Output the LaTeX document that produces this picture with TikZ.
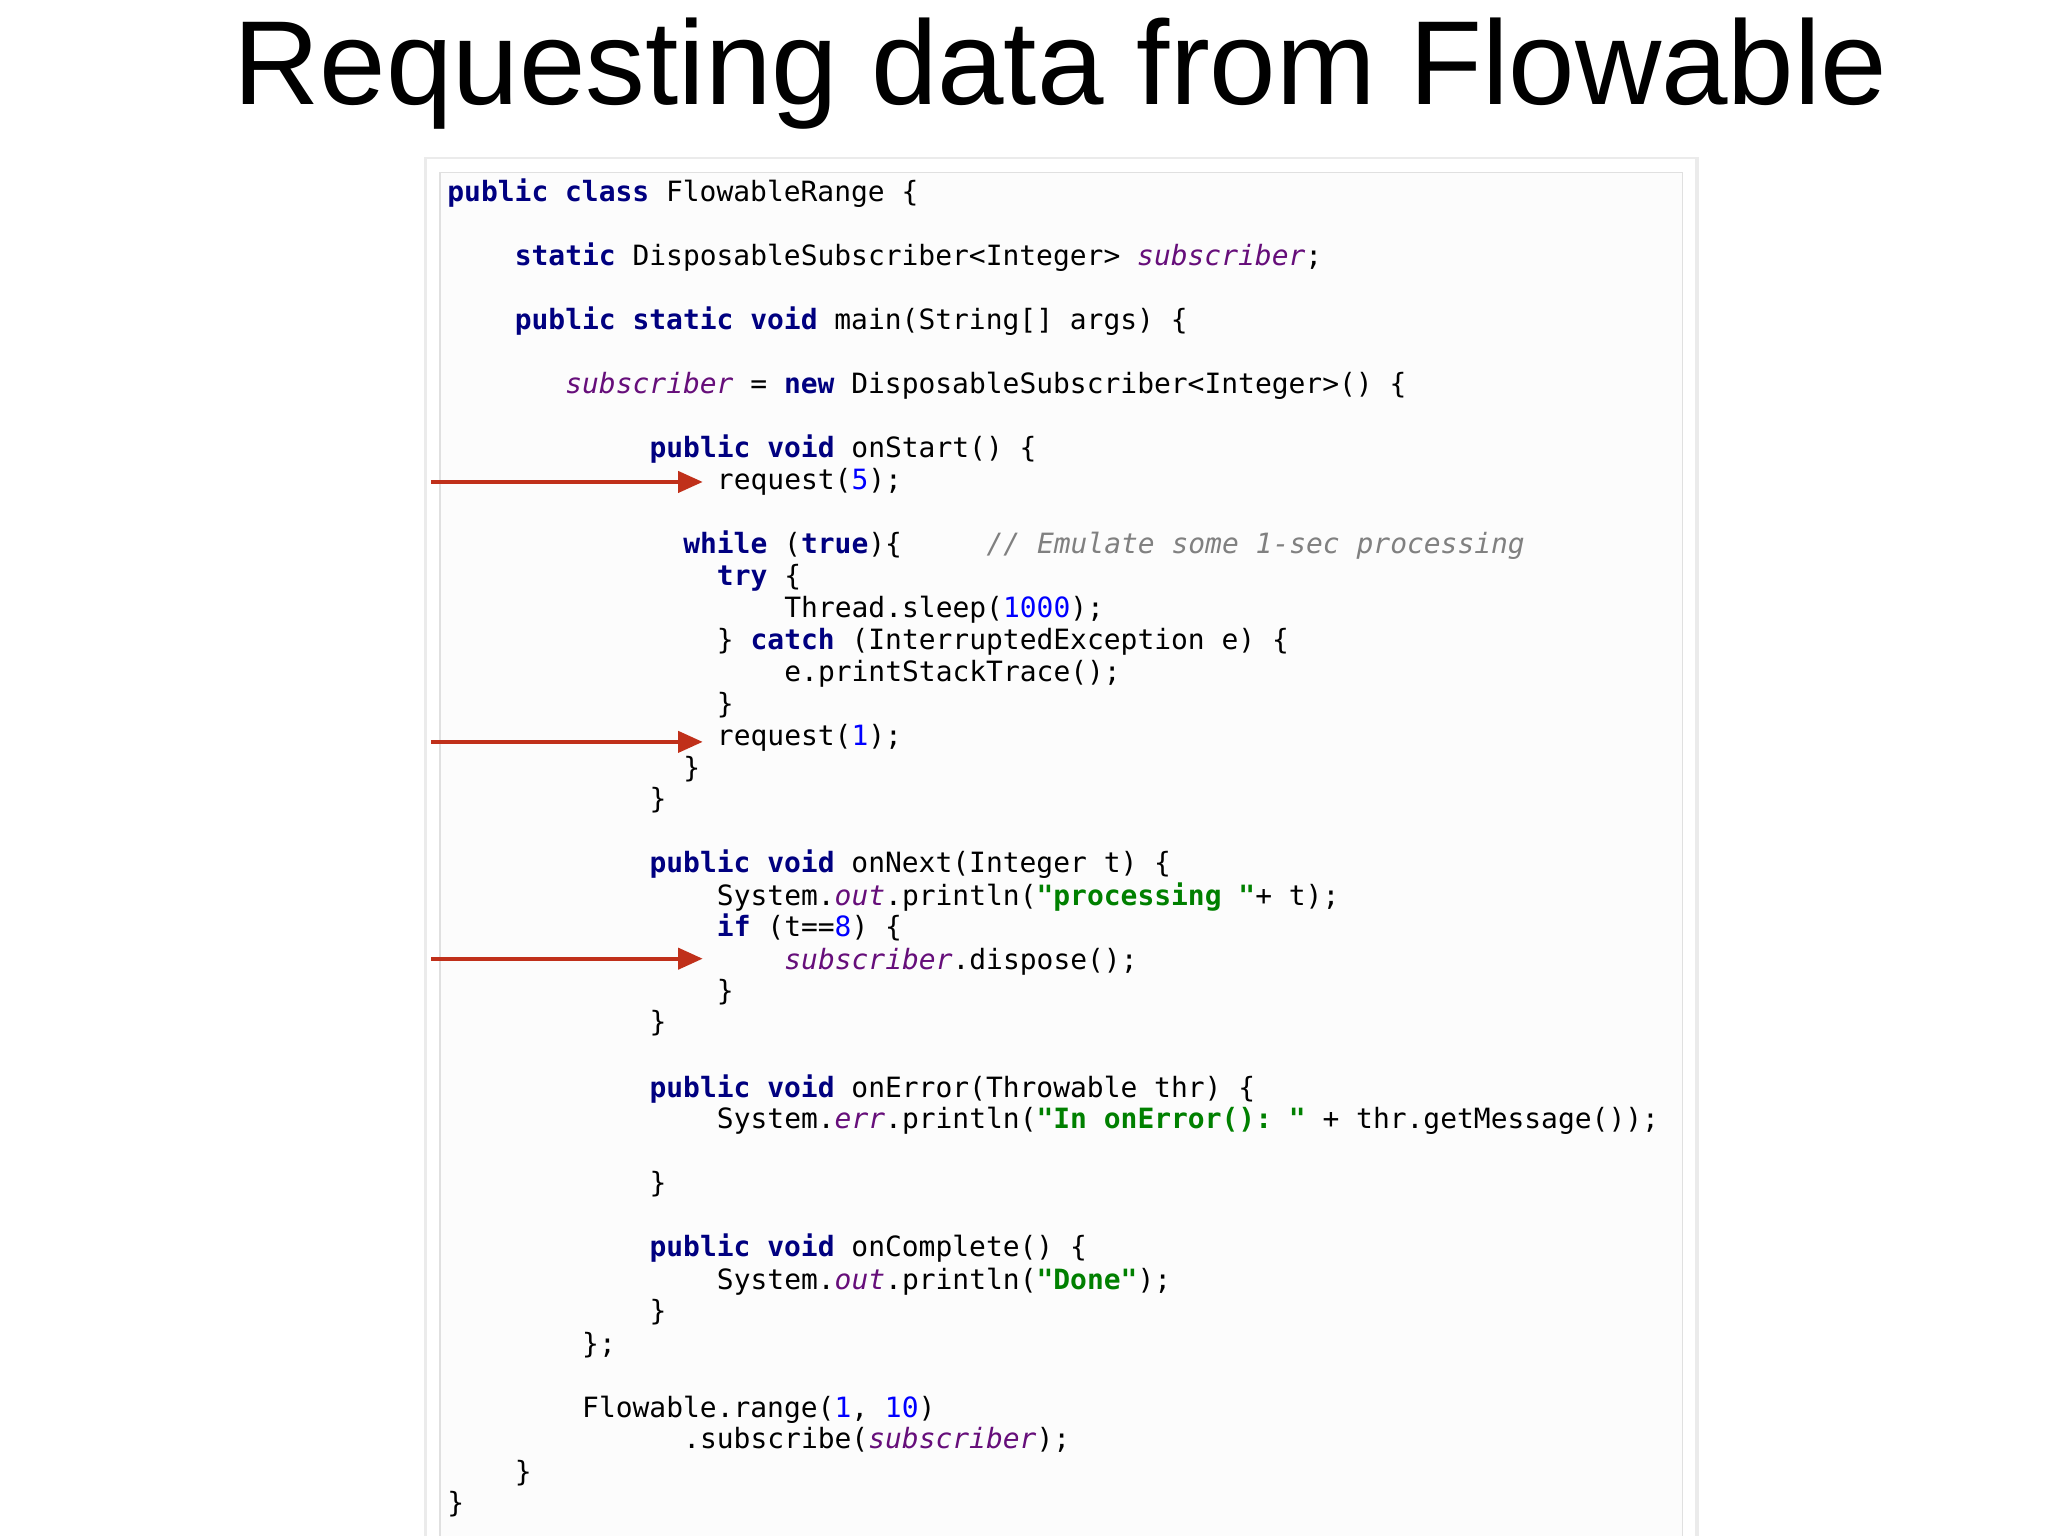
\documentclass[tikz,border=0pt]{standalone}
\usepackage{fontspec}
\setmainfont{Liberation Sans}
\setmonofont{DejaVu Sans Mono}
\usetikzlibrary{arrows.meta}
\definecolor{kwc}{HTML}{000080}
\definecolor{fld}{HTML}{660E7A}
\definecolor{num}{HTML}{0000FF}
\definecolor{str}{HTML}{008000}
\definecolor{cmt}{HTML}{808080}
\definecolor{arr}{HTML}{C0301A}
\newcommand\kw[1]{{\bfseries\color{kwc}#1}}
\newcommand\fd[1]{{\itshape\color{fld}#1}}
\newcommand\nm[1]{{\color{num}#1}}
\newcommand\st[1]{{\bfseries\color{str}#1}}
\newcommand\cm[1]{{\itshape\color{cmt}#1}}
\newcommand\cl[3]{\node[codeline] (l#1) at ({342+12.9*#2},-#1) {#3};}
\begin{document}
\begin{tikzpicture}[x=0.01306cm,y=0.01306cm,
  codeline/.style={anchor=mid west,inner sep=0pt,font=\ttfamily\fontsize{7.95}{9}\selectfont},
  redarrow/.style={draw=arr,line width=1.1pt,-{Triangle[length=7pt,width=6pt]}}]
\useasboundingbox (0,0) rectangle (1568,-1176);
\fill[white] (0,0) rectangle (1568,-1176);
\node[font=\fontsize{34}{38}\selectfont] (title) at (812,-56) {Requesting data from Flowable};
\fill[black!8] (325,-120) rectangle (1301,-1180);
\fill[white] (327,-122) rectangle (1298,-1180);
\draw[black!12,fill=black!1] (337,-132) rectangle (1288,-1180);
\cl{147}{0}{\kw{public} \kw{class} FlowableRange \{}
\cl{196}{4}{\kw{static} DisposableSubscriber<Integer> \fd{subscriber};}
\cl{245}{4}{\kw{public} \kw{static} \kw{void} main(String[] args) \{}
\cl{294}{7}{\fd{subscriber} = \kw{new} DisposableSubscriber<Integer>() \{}
\cl{343}{12}{\kw{public} \kw{void} onStart() \{}
\cl{368}{16}{request(\nm{5});}
\cl{417}{14}{\kw{while} (\kw{true})\{}
\node[codeline] (cmt) at ({342+12.9*32},-417) {\cm{// Emulate some 1-sec processing}};
\cl{441}{16}{\kw{try} \{}
\cl{466}{20}{Thread.sleep(\nm{1000});}
\cl{490}{16}{\} \kw{catch} (InterruptedException e) \{}
\cl{515}{20}{e.printStackTrace();}
\cl{539}{16}{\}}
\cl{564}{16}{request(\nm{1});}
\cl{588}{14}{\}}
\cl{612}{12}{\}}
\cl{661}{12}{\kw{public} \kw{void} onNext(Integer t) \{}
\cl{686}{16}{System.\fd{out}.println(\st{"processing "}+ t);}
\cl{710}{16}{\kw{if} (t==\nm{8}) \{}
\cl{735}{20}{\fd{subscriber}.dispose();}
\cl{759}{16}{\}}
\cl{783}{12}{\}}
\cl{833}{12}{\kw{public} \kw{void} onError(Throwable thr) \{}
\cl{857}{16}{System.\fd{err}.println(\st{"In onError(): "} + thr.getMessage());}
\cl{906}{12}{\}}
\cl{955}{12}{\kw{public} \kw{void} onComplete() \{}
\cl{980}{16}{System.\fd{out}.println(\st{"Done"});}
\cl{1004}{12}{\}}
\cl{1029}{8}{\};}
\cl{1078}{8}{Flowable.range(\nm{1}, \nm{10})}
\cl{1102}{14}{.subscribe(\fd{subscriber});}
\cl{1127}{4}{\}}
\cl{1151}{0}{\}}
\coordinate (a1s) at (330,-369); \coordinate (a1e) at (538,-369);
\coordinate (a2s) at (330,-568); \coordinate (a2e) at (538,-568);
\coordinate (a3s) at (330,-734); \coordinate (a3e) at (538,-734);
\draw[redarrow] (a1s) -- (a1e);
\draw[redarrow] (a2s) -- (a2e);
\draw[redarrow] (a3s) -- (a3e);
\end{tikzpicture}
\end{document}
